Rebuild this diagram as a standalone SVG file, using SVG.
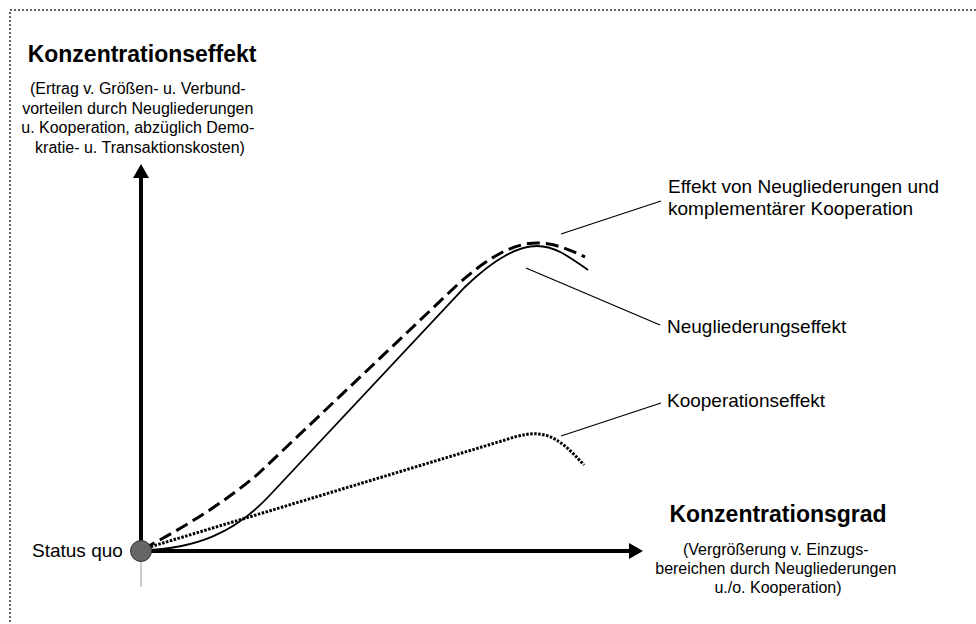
<svg xmlns="http://www.w3.org/2000/svg" width="976" height="624" viewBox="0 0 976 624">
<style>
.t{font-family:"Liberation Sans",Arial,sans-serif;fill:#000}
.title{font-size:23px;font-weight:bold}
.sub{font-size:16px}
.lab{font-size:19px}
.ax{stroke:#000;stroke-width:4;fill:none}
.lead{stroke:#000;stroke-width:1.3;fill:none}
</style>
<defs>
<marker id="ah" viewBox="0 0 14 16" refX="0" refY="8" markerWidth="14" markerHeight="16" markerUnits="userSpaceOnUse" orient="auto">
<path d="M0,0 L14,8 L0,16 Z" fill="#000"/>
</marker>
</defs>
<rect x="10" y="10" width="1000" height="700" fill="none" stroke="#333" stroke-width="1.5" stroke-dasharray="2 2"/>
<g id="axes">
<line class="ax" x1="141" y1="551" x2="141" y2="178" marker-end="url(#ah)"/>
<line class="ax" x1="141" y1="551" x2="629" y2="551" marker-end="url(#ah)"/>
<line x1="141" y1="561" x2="141" y2="587" stroke="#999" stroke-width="1"/>
</g>
<g id="curves">
<path id="neugliederung-kooperation" d="M143,549 C185,527 225,502 258,474 L455,287 C490,255 515,243 537,243 C555,243 570,250 585,257" fill="none" stroke="#000" stroke-width="3" stroke-dasharray="13 6"/>
<path id="neugliederung" d="M143,550 C195,549 235,533 270,495 L465,287 C497,256 520,246 537,246 C556,246 572,259 588,270" fill="none" stroke="#000" stroke-width="1.8"/>
<path id="kooperation" d="M143,549 L505,440 C520,435 532,432 545,435 C560,439 572,452 584,465" fill="none" stroke="#000" stroke-width="3" stroke-dasharray="2.5 1.5"/>
</g>
<g id="connectors">
<line class="lead" x1="561" y1="234" x2="661" y2="201"/>
<line class="lead" x1="526" y1="268" x2="660" y2="325"/>
<line class="lead" x1="561" y1="436" x2="661" y2="403"/>
</g>
<g id="status-quo">
<circle cx="141" cy="551" r="10.5" fill="#666" stroke="#333" stroke-width="1"/>
<text class="t lab" x="32" y="557">Status quo</text>
</g>
<g id="y-label">
<text class="t title" x="142" y="62" text-anchor="middle">Konzentrationseffekt</text>
<text class="t sub" text-anchor="middle">
<tspan x="140" y="94">(Ertrag v. Größen- u. Verbund-</tspan>
<tspan x="140" y="113.5">vorteilen durch Neugliederungen</tspan>
<tspan x="140" y="133">u. Kooperation, abzüglich Demo-</tspan>
<tspan x="140" y="152.5">kratie- u. Transaktionskosten)</tspan>
</text>
</g>
<g id="x-label">
<text class="t title" x="778" y="522" text-anchor="middle">Konzentrationsgrad</text>
<text class="t sub" text-anchor="middle">
<tspan x="778" y="555">(Vergrößerung v. Einzugs-</tspan>
<tspan x="778" y="574">bereichen durch Neugliederungen</tspan>
<tspan x="778" y="593">u./o. Kooperation)</tspan>
</text>
</g>
<g id="label-kombi">
<text class="t lab"><tspan x="668" y="193">Effekt von Neugliederungen und</tspan><tspan x="668" y="215">komplementärer Kooperation</tspan></text>
</g>
<g id="label-neugliederung">
<text class="t lab" x="667" y="333">Neugliederungseffekt</text>
</g>
<g id="label-kooperation">
<text class="t lab" x="667" y="407">Kooperationseffekt</text>
</g>
</svg>
